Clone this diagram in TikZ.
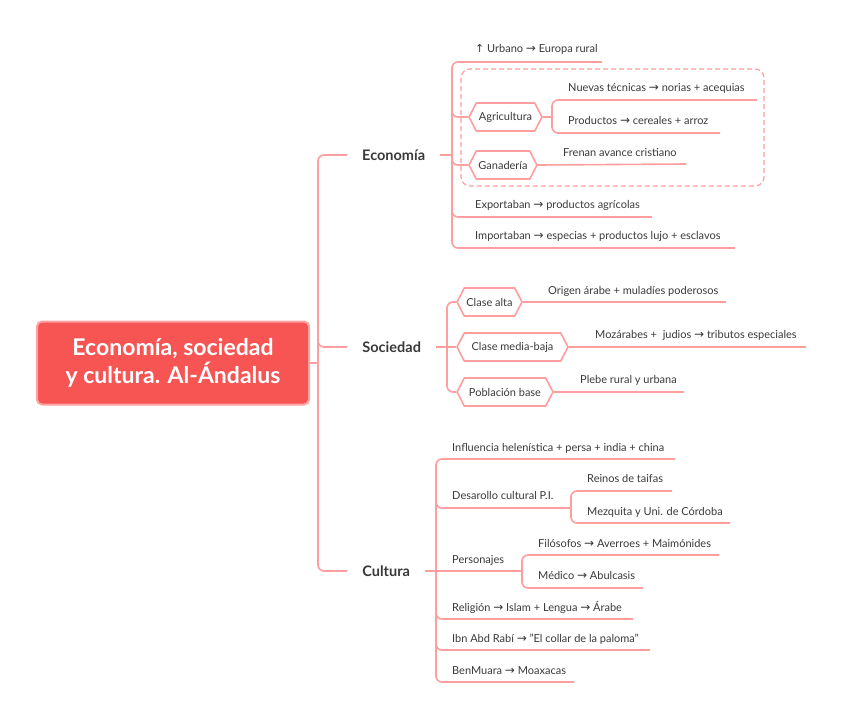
\documentclass[tikz,border=0pt]{standalone}
\usepackage{fontspec}
\setmainfont{Lato}
\newfontfamily\arrfont{DejaVu Sans}
\newcommand\rarr{{\arrfont\fontsize{12}{13}\selectfont →}}
\newcommand\uarr{{\arrfont ↑}}
\usetikzlibrary{shapes.symbols}
\definecolor{lnk}{HTML}{FF9E9E}
\definecolor{rootfill}{HTML}{F75454}
\definecolor{rootline}{HTML}{FFA3A3}
\definecolor{txt}{HTML}{3A3A3A}
\begin{document}
\begin{tikzpicture}[x=1pt,y=-1pt,
 conn/.style={draw=lnk, line width=1.6pt, rounded corners=6pt},
 leaf/.style={anchor=base west, inner sep=0pt, text=txt, font=\fontsize{11}{13}\selectfont},
 head/.style={anchor=west, inner sep=2pt, text=txt, font=\fontsize{14.5}{16}\selectfont\bfseries},
 hexa/.style={signal, signal to=west and east, signal pointer angle=125, draw=lnk, line width=1.6pt, fill=white, minimum height=28pt, inner xsep=1pt, text=txt, font=\fontsize{11}{13}\selectfont},
 rootbox/.style={draw=rootline, line width=2pt, fill=rootfill, rounded corners=5pt, minimum width=272pt, minimum height=83pt, align=center, text=white, font=\fontsize{23}{28}\selectfont\bfseries}
]
\useasboundingbox (0,0) rectangle (848,721);
\fill[white] (0,0) rectangle (848,721);

% root and headings
\node[rootbox] (root) at (173,363) {Economía, sociedad\\y cultura. Al-Ándalus};
\node[head, minimum width=93pt] (eco) at (347,155) {Economía};
\node[head, minimum width=89pt] (soc) at (347,347) {Sociedad};
\node[head, minimum width=78pt] (cul) at (347,571) {Cultura};
\coordinate (trunk) at (318,363);

% Economia
\coordinate (urbE) at (602,62);
\coordinate (nuevE) at (757,100);
\coordinate (prodE) at (720,133);
\coordinate (ganE) at (686,164);
\coordinate (expE) at (652,217);
\coordinate (impE) at (735,248);
\coordinate (ecoJ) at (452,155);
\coordinate (agriJ) at (552,117);
\draw[lnk, line width=1.2pt, dash pattern=on 5pt off 3pt, rounded corners=9pt] (461,69) rectangle (764,186);
\node[hexa, minimum width=73pt] (agri) at (505.5,117) {Agricultura};
\node[hexa, minimum width=68pt] (gan) at (503,165) {Ganadería};
\node[leaf] (urb) at (475,52) {\uarr{} Urbano \rarr{} Europa rural};
\node[leaf] (nuev) at (568,91) {Nuevas técnicas \rarr{} norias + acequias};
\node[leaf] (prod) at (568,124) {Productos \rarr{} cereales + arroz};
\node[leaf] (fren) at (563,156) {Frenan avance cristiano};
\node[leaf] (expo) at (475,208) {Exportaban \rarr{} productos agrícolas};
\node[leaf] (impo) at (475,239) {Importaban \rarr{} especias + productos lujo + esclavos};

% Sociedad
\coordinate (socJ) at (447,347);
\coordinate (altaE) at (726,302);
\coordinate (mediaE) at (806,347);
\coordinate (pobE) at (684,392);
\node[hexa, minimum width=65pt] (alta) at (489.5,302) {Clase alta};
\node[hexa, minimum width=111pt] (media) at (512.5,347) {Clase media-baja};
\node[hexa, minimum width=96pt] (pob) at (505,392) {Población base};
\node[leaf] (orig) at (548,294) {Origen árabe + muladíes poderosos};
\node[leaf] (moz) at (595,338) {Mozárabes +\ \ judios \rarr{} tributos especiales};
\node[leaf] (pleb) at (580,383) {Plebe rural y urbana};

% Cultura
\coordinate (culJ) at (436,571);
\coordinate (inflE) at (675,459);
\coordinate (desJ) at (571,508);
\coordinate (reinE) at (672,491);
\coordinate (mezE) at (730,523);
\coordinate (perJ) at (522,571);
\coordinate (filE) at (719,555);
\coordinate (medE) at (643,588);
\coordinate (relE) at (633,619);
\coordinate (ibnE) at (650,650);
\coordinate (benE) at (574,682);
\node[leaf] (infl) at (452,451) {Influencia helenística + persa + india + china};
\node[leaf] (desa) at (452,499) {Desarollo cultural P.I.};
\node[leaf] (rein) at (587,482) {Reinos de taifas};
\node[leaf] (mezq) at (587,515) {Mezquita y Uni. de Córdoba};
\node[leaf] (pers) at (452,563) {Personajes};
\node[leaf] (filo) at (538,547) {Filósofos \rarr{} Averroes + Maimónides};
\node[leaf] (medi) at (538,579) {Médico \rarr{} Abulcasis};
\node[leaf] (reli) at (452,611) {Religión \rarr{} Islam + Lengua \rarr{} Árabe};
\node[leaf] (ibn) at (452,642) {Ibn Abd Rabí \rarr{} "El collar de la paloma"};
\node[leaf] (benm) at (452,674) {BenMuara \rarr{} Moaxacas};

% main connectors
\draw[conn] (root.east) -- (trunk);
\draw[conn] (eco.west) -| (trunk) |- (cul.west);
\draw[conn] (318,335) |- (soc.west);

% Economia connectors
\draw[conn] (eco.east) -- (ecoJ);
\draw[conn] (urbE) -| (ecoJ) |- (impE);
\draw[conn] (452,100) |- (agri.west);
\draw[conn] (452,140) |- (gan.west);
\draw[conn] (452,195) |- (expE);
\draw[conn] (agri.east) -- (agriJ);
\draw[conn] (nuevE) -| (agriJ) |- (prodE);
\draw[conn] (gan.east) -- (ganE);

% Sociedad connectors
\draw[conn] (soc.east) -- (socJ);
\draw[conn] (alta.west) -| (socJ) |- (pob.west);
\draw[conn] (socJ) -- (media.west);
\draw[conn] (alta.east) -- (altaE);
\draw[conn] (media.east) -- (mediaE);
\draw[conn] (pob.east) -- (pobE);

% Cultura connectors
\draw[conn] (cul.east) -- (perJ);
\draw[conn] (inflE) -| (culJ) |- (benE);
\draw[conn] (436,480) |- (desJ);
\draw[conn] (reinE) -| (desJ) |- (mezE);
\draw[conn] (filE) -| (perJ) |- (medE);
\draw[conn] (436,600) |- (relE);
\draw[conn] (436,630) |- (ibnE);
\end{tikzpicture}
\end{document}
